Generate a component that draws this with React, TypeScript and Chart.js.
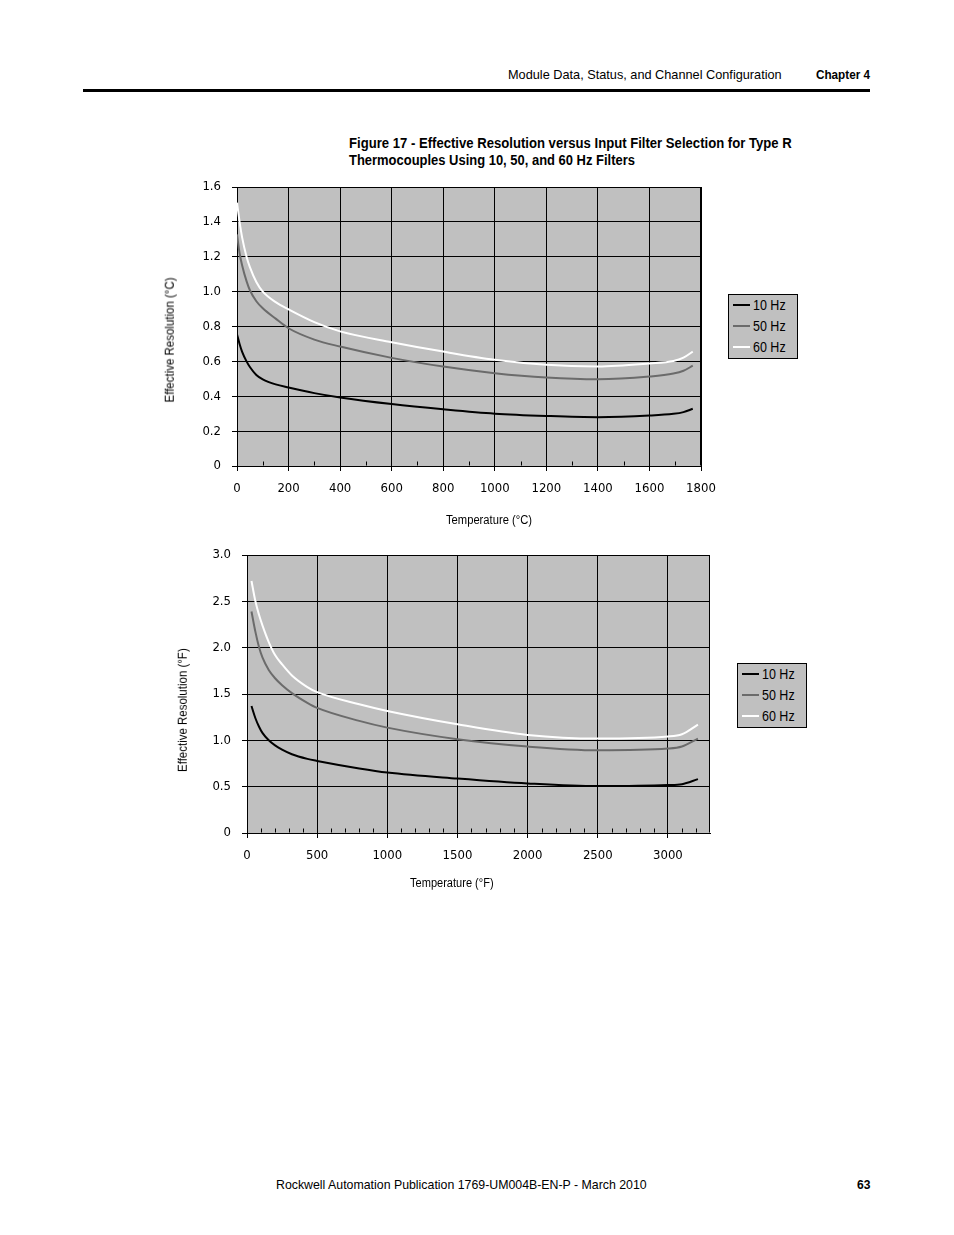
import React, { useEffect, useLayoutEffect, useRef, useState } from 'react';
import { Chart, registerables } from 'chart.js';
Chart.register(...registerables);

const TICK_FONT = '"DejaVu Sans Condensed", "Liberation Sans", sans-serif';
const TEXT_FONT = '"Liberation Sans", Arial, sans-serif';
Chart.defaults.font.family = TICK_FONT;

// ---- Data: °C chart ----
const tempC = [0, 10, 20, 37, 50, 75, 100, 150, 200, 300, 400, 600, 800, 1000, 1200, 1400, 1600, 1693, 1732, 1768];
const resC10 = [0.756, 0.7, 0.655, 0.6, 0.568, 0.522, 0.497, 0.468, 0.45, 0.418, 0.393, 0.355, 0.325, 0.3, 0.287, 0.28, 0.289, 0.299, 0.309, 0.328];
const resC50 = [1.328, 1.22, 1.15, 1.06, 1.008, 0.945, 0.905, 0.845, 0.79, 0.725, 0.685, 0.62, 0.57, 0.532, 0.507, 0.497, 0.513, 0.53, 0.546, 0.575];
const resC60 = [1.51, 1.4, 1.31, 1.2, 1.14, 1.055, 1.0, 0.94, 0.898, 0.825, 0.772, 0.71, 0.656, 0.609, 0.58, 0.571, 0.588, 0.602, 0.621, 0.656];
const xTicksC = [0, 200, 400, 600, 800, 1000, 1200, 1400, 1600, 1800];
const yTicksC = [0, 0.2, 0.4, 0.6, 0.8, 1.0, 1.2, 1.4, 1.6];
const yLabelsC = ['0', '0.2', '0.4', '0.6', '0.8', '1.0', '1.2', '1.4', '1.6'];

// ---- Data: °F chart ----
const tempF = [32, 60, 85, 110, 155, 200, 250, 320, 430, 500, 800, 1000, 1500, 2000, 2500, 3000, 3100, 3214];
const resF10 = [1.37, 1.238, 1.149, 1.08, 1.0, 0.945, 0.9, 0.85, 0.8, 0.778, 0.697, 0.653, 0.588, 0.535, 0.506, 0.517, 0.527, 0.581];
const resF50 = [2.39, 2.17, 2.01, 1.895, 1.76, 1.67, 1.595, 1.51, 1.405, 1.35, 1.21, 1.137, 1.012, 0.933, 0.893, 0.911, 0.933, 1.019];
const resF60 = [2.72, 2.5, 2.357, 2.24, 2.06, 1.92, 1.82, 1.7, 1.575, 1.52, 1.389, 1.317, 1.173, 1.058, 1.019, 1.041, 1.066, 1.17];
const xTicksF = [0, 500, 1000, 1500, 2000, 2500, 3000];
const yTicksF = [0, 0.5, 1.0, 1.5, 2.0, 2.5, 3.0];
const yLabelsF = ['0', '0.5', '1.0', '1.5', '2.0', '2.5', '3.0'];

const seriesLabels = ['10 Hz', '50 Hz', '60 Hz'];
const seriesColors = ['#000000', '#6b6b6b', '#ffffff'];

const framePlugin = {
  id: 'frame',
  beforeDraw(chart: any) {
    const { ctx, chartArea: a } = chart;
    ctx.save();
    ctx.fillStyle = '#c0c0c0';
    ctx.fillRect(a.left, a.top, a.right - a.left, a.bottom - a.top);
    ctx.restore();
  },
  afterDraw(chart: any, _args: any, opts: any) {
    const { ctx, chartArea: a } = chart;
    const x = chart.scales.x;
    ctx.save();
    ctx.strokeStyle = '#000';
    ctx.lineWidth = 1;
    const l = Math.round(a.left) + 0.5;
    const t = Math.round(a.top) + 0.5;
    const r = Math.round(a.right) - 0.5;
    const b = Math.round(a.bottom) - 0.5;
    ctx.beginPath();
    ctx.moveTo(l, t); ctx.lineTo(r, t); ctx.lineTo(r, b);
    ctx.stroke();
    ctx.beginPath();
    for (let v = opts.minorStep; v < x.max; v += opts.minorStep) {
      if (v % opts.majorStep === 0) continue;
      const px = Math.round(x.getPixelForValue(v)) + 0.5;
      ctx.moveTo(px, b);
      ctx.lineTo(px, b - 4);
    }
    ctx.stroke();
    ctx.restore();
  },
};

type LCProps = {
  left: number; top: number; width: number; height: number;
  xs: number[]; ys: number[][]; xMax: number; xTicks: number[]; xStep: number;
  yMax: number; yTicks: number[]; yLabels: string[];
};

function LineChart(p: LCProps) {
  const ref = useRef<HTMLCanvasElement>(null);
  useEffect(() => {
    const chart = new Chart(ref.current as HTMLCanvasElement, {
      type: 'line',
      data: {
        datasets: p.ys.map((arr, i) => ({
          label: seriesLabels[i],
          data: p.xs.map((x, j) => ({ x, y: arr[j] })),
          borderColor: seriesColors[i],
          backgroundColor: seriesColors[i],
          borderWidth: 2,
          pointRadius: 0,
          cubicInterpolationMode: 'monotone',
          fill: false,
        })),
      },
      options: {
        responsive: false,
        animation: false,
        layout: { padding: { top: 10, right: 15, left: 0, bottom: 0 } },
        plugins: {
          legend: { display: false },
          tooltip: { enabled: false },
          frame: { minorStep: 100, majorStep: p.xStep },
        } as any,
        scales: {
          x: {
            type: 'linear',
            min: 0,
            max: p.xMax,
            afterBuildTicks: (s: any) => { s.ticks = p.xTicks.map((v) => ({ value: v })); },
            ticks: {
              padding: 10,
              color: '#000',
              font: { size: 13 },
              maxRotation: 0,
              autoSkip: false,
              callback: (_v: any, i: number) => String(p.xTicks[i]),
            },
            grid: { color: '#000', lineWidth: 1, tickLength: 5, tickColor: '#000' },
            border: { color: '#000', width: 1 },
            afterFit: (s: any) => {
              s.height = 70;
              s.paddingLeft = 0; s.paddingRight = 0; s.paddingTop = 0; s.paddingBottom = 0;
            },
          },
          y: {
            type: 'linear',
            min: 0,
            max: p.yMax,
            afterBuildTicks: (s: any) => { s.ticks = p.yTicks.map((v) => ({ value: v })); },
            ticks: {
              padding: 11,
              color: '#000',
              font: { size: 13 },
              autoSkip: false,
              callback: (_v: any, i: number) => p.yLabels[i],
            },
            grid: { color: '#000', lineWidth: 1, tickLength: 5, tickColor: '#000' },
            border: { color: '#000', width: 1 },
            afterFit: (s: any) => {
              s.width = 87;
              s.paddingLeft = 0; s.paddingRight = 0; s.paddingTop = 0; s.paddingBottom = 0;
            },
          },
        },
      } as any,
      plugins: [framePlugin],
    });
    return () => chart.destroy();
  }, []);
  return (
    <canvas
      ref={ref}
      width={p.width}
      height={p.height}
      style={{ position: 'absolute', left: p.left, top: p.top, width: p.width, height: p.height }}
    />
  );
}

// Text stretched horizontally to a target width (emulates the condensed typeface)
function FitText({ x, y, w, size, bold, anchor = 'left', rotate = false, children }: any) {
  const ref = useRef<HTMLSpanElement>(null);
  const [k, setK] = useState(1);
  useLayoutEffect(() => {
    const el = ref.current;
    if (el && el.offsetWidth > 0) setK(w / el.offsetWidth);
  }, []);
  const dx = anchor === 'left' ? 0 : anchor === 'center' ? -w / 2 : -w;
  const transform = rotate
    ? `rotate(-90deg) translate(${-w / 2}px, -50%) scaleX(${k})`
    : `translate(${dx}px, -50%) scaleX(${k})`;
  return (
    <span
      ref={ref}
      style={{
        position: 'absolute', left: x, top: y, whiteSpace: 'nowrap', fontFamily: TEXT_FONT,
        fontSize: size, lineHeight: 1, fontWeight: bold ? 'bold' : 'normal', color: '#000',
        transformOrigin: rotate ? '0 0' : '0 50%', transform, display: 'inline-block',
      }}
    >
      {children}
    </span>
  );
}

function Legend({ left, top }: { left: number; top: number }) {
  return (
    <div style={{ position: 'absolute', left, top, width: 70, height: 65 }}>
      <div style={{ position: 'absolute', left: 0, top: 0, width: 68, height: 63, border: '1px solid #000', background: '#c0c0c0' }} />
      {seriesLabels.map((s, i) => (
        <React.Fragment key={s}>
          <div style={{ position: 'absolute', left: 5, top: 10 + i * 21, width: 17, height: 2, background: seriesColors[i] }} />
          <FitText x={25} y={11 + i * 21} w={33} size={14}>{s}</FitText>
        </React.Fragment>
      ))}
    </div>
  );
}

export default function App() {
  return (
    <div style={{ position: 'absolute', left: 0, top: 0, width: 954, height: 1235, background: '#fff', overflow: 'hidden' }}>
      <FitText x={782} y={74} w={274} size={13} anchor="right">Module Data, Status, and Channel Configuration</FitText>
      <FitText x={870} y={74} w={54} size={13} bold anchor="right">Chapter 4</FitText>
      <div style={{ position: 'absolute', left: 83, top: 89, width: 787, height: 3, background: '#000' }} />
      <FitText x={349} y={143} w={443} size={14.5} bold>Figure 17 - Effective Resolution versus Input Filter Selection for Type R</FitText>
      <FitText x={349} y={160} w={286} size={14.5} bold>Thermocouples Using 10, 50, and 60 Hz Filters</FitText>

      <LineChart left={150} top={177} width={566} height={359} xs={tempC} ys={[resC10, resC50, resC60]}
        xMax={1800} xTicks={xTicksC} xStep={200} yMax={1.6} yTicks={yTicksC} yLabels={yLabelsC} />
      <FitText x={170} y={340} w={125} size={12.5} rotate>Effective Resolution (°C)</FitText>
      <FitText x={489} y={520} w={86} size={12.5} anchor="center">Temperature (°C)</FitText>
      <Legend left={728} top={294} />

      <LineChart left={160} top={545} width={565} height={358} xs={tempF} ys={[resF10, resF50, resF60]}
        xMax={3300} xTicks={xTicksF} xStep={500} yMax={3} yTicks={yTicksF} yLabels={yLabelsF} />
      <FitText x={183} y={710} w={124} size={12.5} rotate>Effective Resolution (°F)</FitText>
      <FitText x={452} y={883} w={84} size={12.5} anchor="center">Temperature (°F)</FitText>
      <Legend left={737} top={663} />

      <FitText x={276} y={1184} w={371} size={13}>Rockwell Automation Publication 1769-UM004B-EN-P - March 2010</FitText>
      <FitText x={870} y={1184} w={13} size={13} bold anchor="right">63</FitText>
    </div>
  );
}
